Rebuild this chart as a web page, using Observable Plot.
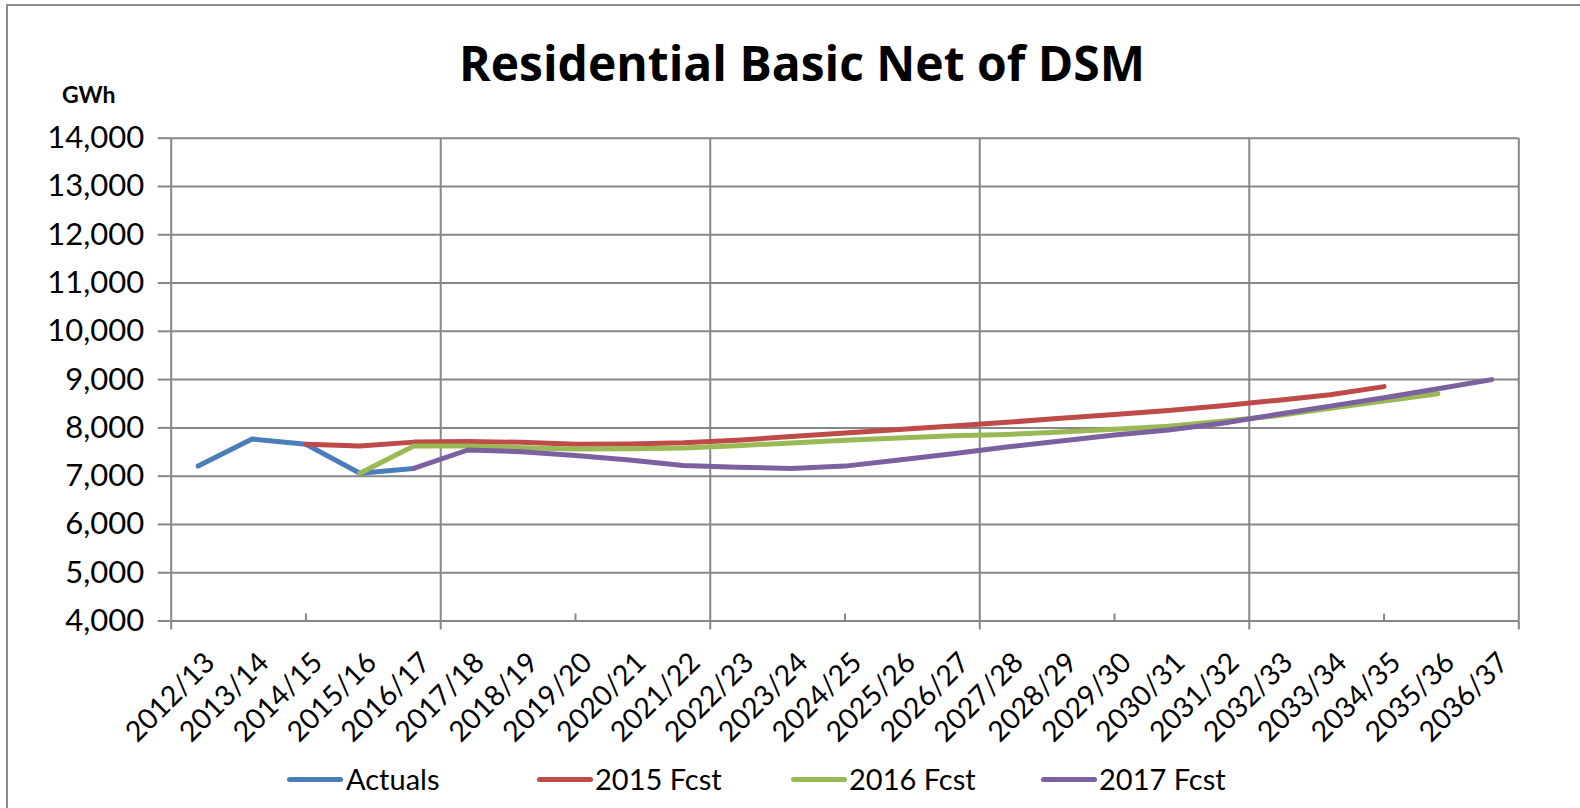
<!DOCTYPE html>
<html>
<head>
<meta charset="utf-8">
<script src="https://cdn.jsdelivr.net/npm/d3@7"></script>
<script src="https://cdn.jsdelivr.net/npm/@observablehq/plot@0.6"></script>
<style>
  body { margin: 0; background: #fff; }
  #chart { position: relative; width: 1580px; height: 808px; overflow: hidden; background: #fff; font-family: Lato, "Open Sans", sans-serif; color: #000; }
  #frame { position: absolute; left: 6px; top: 4px; width: 1700px; height: 900px; border-left: 2px solid #8c8c8c; border-top: 2px solid #8c8c8c; }
  #plot { position: absolute; left: 0; top: 0; }
  .title { position: absolute; left: 0; width: 1604px; text-align: center; font-weight: 700; white-space: nowrap; font-family: "Open Sans", Lato, sans-serif; }
  .abs { position: absolute; white-space: nowrap; }
  .sw { position: absolute; height: 5px; border-radius: 3px; }
</style>
</head>
<body>
<div id="chart">
  <div id="frame"></div>
  <div id="plot"></div>
</div>
<script>
// ---- data ----
const categories = ["2012/13","2013/14","2014/15","2015/16","2016/17","2017/18","2018/19","2019/20","2020/21","2021/22","2022/23","2023/24","2024/25","2025/26","2026/27","2027/28","2028/29","2029/30","2030/31","2031/32","2032/33","2033/34","2034/35","2035/36","2036/37"];
const yTicks = [4000,5000,6000,7000,8000,9000,10000,11000,12000,13000,14000];
const seriesNames = ["Actuals","2015 Fcst","2016 Fcst","2017 Fcst"];
const seriesColors = ["#4A7EBB","#BE4B48","#98B954","#7D60A0"];
const seriesStart = [0, 2, 3, 4]; // index in categories of the first value
const actuals  = [7210,7770,7660,7060,7160];
const fcst2015 = [7660,7625,7705,7720,7700,7660,7665,7690,7745,7820,7896,7965,8040,8115,8200,8275,8360,8458,8569,8688,8855];
const fcst2016 = [7060,7625,7625,7590,7560,7570,7585,7632,7688,7743,7790,7835,7865,7915,7970,8035,8140,8250,8408,8554,8708];
const fcst2017 = [7160,7542,7507,7430,7333,7223,7187,7160,7208,7333,7465,7604,7729,7854,7958,8096,8277,8450,8625,8812,9000];
const title = "Residential Basic Net of DSM";
const unitLabel = "GWh";

// ---- build table ----
const seriesValues = [actuals, fcst2015, fcst2016, fcst2017];
const rows = [];
seriesValues.forEach((vals, s) => vals.forEach((v, k) => rows.push({series: seriesNames[s], i: seriesStart[s] + k, value: v})));

const gridColor = "#878787";
const boundaries = d3.range(0, categories.length + 1, 5).map(k => k - 0.5);
const minorTicks = d3.range(2, categories.length, 5);

const chart = Plot.plot({
  width: 1580,
  height: 808,
  marginTop: 137.7,
  marginBottom: 187.5,
  marginLeft: 170.7,
  marginRight: 61.7,
  style: {fontFamily: "Lato, 'Open Sans', sans-serif", background: "transparent", overflow: "visible", color: "#000"},
  x: {type: "linear", domain: [-0.5, categories.length - 0.5]},
  y: {domain: [4000, 14000]},
  color: {domain: seriesNames, range: seriesColors},
  marks: [
    Plot.ruleY(yTicks, {stroke: gridColor, strokeWidth: 2}),
    Plot.ruleX(boundaries, {stroke: gridColor, strokeWidth: 2}),
    Plot.axisY(yTicks, {tickSize: 13, tickPadding: 14, stroke: gridColor, strokeWidth: 2, fill: "#000", fontSize: 31, tickFormat: d3.format(","), label: null}),
    Plot.axisX(boundaries, {tickSize: 9, stroke: gridColor, strokeWidth: 2, tickFormat: () => "", label: null}),
    Plot.axisX(minorTicks, {tickSize: 7, dy: -7, stroke: gridColor, strokeWidth: 2, tickFormat: () => "", label: null}),
    Plot.text(categories, {x: (d, i) => i, text: d => d, frameAnchor: "bottom", rotate: -45, textAnchor: "end", lineAnchor: "top", dx: 4, dy: 29, fontSize: 28.5, fill: "#000"}),
    Plot.line(rows, {x: "i", y: "value", z: "series", stroke: "series", strokeWidth: 5, strokeLinecap: "round", strokeLinejoin: "round"})
  ]
});
document.getElementById("plot").appendChild(chart);

// ---- title, unit label, legend ----
const root = document.getElementById("chart");
function addDiv(cls, text, css) {
  const d = document.createElement("div");
  d.className = cls;
  d.textContent = text;
  Object.assign(d.style, css);
  root.appendChild(d);
  return d;
}
// Open Sans: ascender 1.069, descender 0.293 -> content 1.362em
addDiv("title", title, {top: (81 - 1.069 * 48) + "px", fontSize: "48px", lineHeight: (1.362 * 48) + "px"});
addDiv("abs", unitLabel, {left: "62px", top: "81.2px", fontSize: "23px", lineHeight: "27.6px", fontWeight: "700"});

const legendSwatchX = [287, 537, 791, 1041];
const legendTextX = [346, 595, 849, 1099];
seriesNames.forEach((name, s) => {
  const sw = document.createElement("div");
  sw.className = "sw";
  Object.assign(sw.style, {left: legendSwatchX[s] + "px", width: "56px", top: "777px", background: seriesColors[s]});
  root.appendChild(sw);
  addDiv("abs", name, {left: legendTextX[s] + "px", top: "761.5px", fontSize: "29px", lineHeight: "34.8px"});
});
</script>
</body>
</html>
